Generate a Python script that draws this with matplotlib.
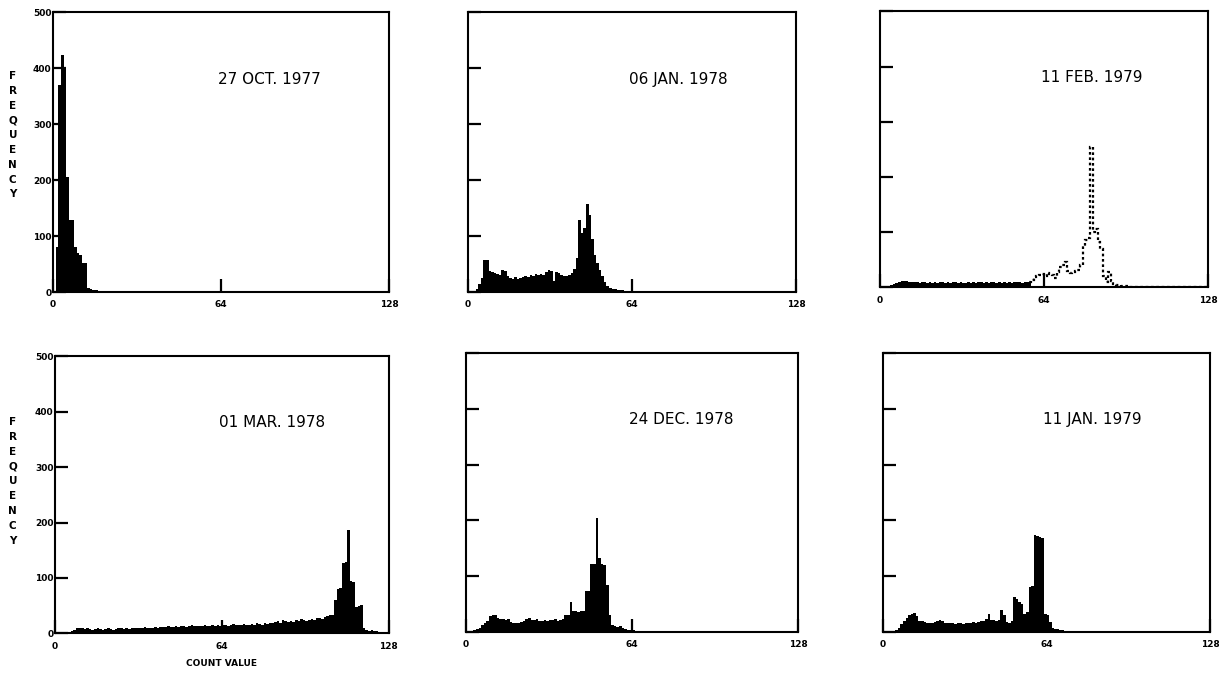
import matplotlib.pyplot as plt
import numpy as np

N_BINS = 128

# frequency for each count value, starting at 0 (values past the end are zero)
oct_1977 = [2, 80, 370, 423, 400, 206, 129, 129, 81, 70, 66, 52, 52, 8, 5, 4,
            3, 2, 2, 1, 1]

jan_1978 = [0, 0, 1, 5, 15, 25, 57, 57, 38, 36, 34, 33, 30, 40, 38, 28,
            25, 24, 26, 24, 25, 26, 28, 27, 30, 29, 32, 31, 33, 30, 35, 40,
            38, 20, 36, 34, 30, 29, 28, 30, 34, 42, 60, 128, 105, 114, 157, 138,
            95, 66, 52, 40, 28, 18, 10, 8, 6, 5, 4, 3, 3, 2, 2, 1,
            1]

feb_1979 = [0, 0, 1, 2, 4, 6, 8, 10, 11, 12, 11, 10, 9, 10, 9, 8,
            9, 10, 8, 9, 8, 9, 8, 9, 10, 8, 9, 8, 9, 10, 8, 9,
            8, 7, 10, 8, 9, 8, 10, 9, 8, 9, 8, 10, 9, 8, 9, 8,
            9, 8, 9, 8, 9, 10, 9, 8, 9, 9, 10, 14, 18, 20, 22, 24,
            20, 26, 24, 22, 16, 28, 36, 40, 45, 30, 26, 28, 30, 32, 40, 75,
            85, 90, 255, 100, 105, 82, 70, 20, 10, 28, 12, 6, 5, 4, 3, 2,
            2, 1, 1]

mar_1978 = [0, 0, 0, 0, 1, 2, 4, 6, 9, 10, 9, 8, 9, 8, 7, 8,
            9, 8, 7, 8, 9, 8, 7, 8, 9, 10, 8, 9, 8, 9, 10, 9,
            10, 9, 11, 10, 9, 10, 11, 10, 12, 11, 12, 14, 12, 11, 13, 12,
            13, 14, 12, 13, 15, 13, 14, 13, 14, 15, 13, 14, 15, 14, 16, 14,
            15, 16, 14, 15, 17, 15, 16, 15, 17, 16, 15, 17, 16, 18, 17, 16,
            18, 17, 19, 18, 20, 22, 19, 24, 22, 20, 23, 21, 24, 22, 26, 24,
            23, 25, 26, 24, 27, 28, 26, 30, 32, 34, 34, 60, 81, 82, 127, 128,
            187, 94, 92, 48, 50, 52, 10, 6, 5, 7, 5, 4, 3, 1, 0, 0]

dec_1978 = [0, 0, 1, 3, 5, 8, 12, 16, 19, 28, 31, 30, 26, 24, 23, 22,
            23, 18, 16, 17, 16, 18, 20, 24, 26, 22, 21, 24, 20, 19, 21, 20,
            22, 21, 23, 20, 22, 24, 31, 30, 53, 38, 37, 36, 38, 37, 73, 74,
            121, 122, 204, 133, 121, 120, 85, 31, 12, 10, 9, 10, 8, 6, 4, 3,
            3, 2, 2, 1, 1]

jan_1979 = [0, 0, 0, 0, 1, 3, 8, 14, 20, 26, 30, 33, 34, 28, 20, 19,
            18, 17, 16, 17, 18, 19, 21, 19, 17, 16, 17, 16, 15, 16, 17, 15,
            16, 17, 16, 18, 17, 18, 19, 20, 24, 33, 22, 21, 20, 22, 39, 30,
            18, 17, 19, 63, 60, 54, 50, 33, 36, 81, 82, 173, 172, 170, 168, 33,
            30, 18, 8, 6, 5, 4, 3, 2, 2, 2, 1, 1]

dates = ["27 OCT. 1977", "06 JAN. 1978", "11 FEB. 1979",
         "01 MAR. 1978", "24 DEC. 1978", "11 JAN. 1979"]
series = [oct_1977, jan_1978, feb_1979, mar_1978, dec_1978, jan_1979]

x_ticks = [0, 64, 128]
y_ticks = [0, 100, 200, 300, 400, 500]

# panel rectangles (left, bottom, width, height) in figure fractions
boxes = [
    [0.0435, 0.568, 0.276, 0.414],
    [0.384, 0.568, 0.269, 0.414],
    [0.722, 0.575, 0.269, 0.408],
    [0.045, 0.063, 0.274, 0.410],
    [0.382, 0.065, 0.273, 0.413],
    [0.724, 0.065, 0.269, 0.413],
]
# vertical centre of the stacked FREQUENCY label for each row
freq_label_y = [0.80, 0.288]

# the 11 FEB. 1979 histogram is plotted dotted above this count value
DOTTED_FROM = 59


def padded(values):
    arr = np.zeros(N_BINS)
    arr[:len(values)] = values
    return arr


fig = plt.figure(figsize=(12.19, 6.76), dpi=100)
edges = np.arange(N_BINS + 1)

for i, (vals, date, box) in enumerate(zip(series, dates, boxes)):
    ax = fig.add_axes(box)
    h = padded(vals)
    if i == 2:
        ax.stairs(h[:DOTTED_FROM], edges[:DOTTED_FROM + 1], fill=True,
                  color="black")
        ax.stairs(h[DOTTED_FROM - 1:], edges[DOTTED_FROM - 1:],
                  color="black", linestyle=(0, (1.2, 1.2)), linewidth=1.6)
    else:
        ax.stairs(h, edges, fill=True, color="black", linewidth=0.8)

    ax.set_xlim(0, 128)
    ax.set_ylim(0, 500)
    ax.set_xticks(x_ticks)
    ax.set_xticklabels([str(t) for t in x_ticks], fontsize=6.5,
                       fontweight="bold")
    ax.set_yticks(y_ticks)
    ax.tick_params(axis="both", direction="in", length=9.5, width=1.6,
                   top=False, right=False)
    ax.tick_params(axis="x", pad=6)
    ax.tick_params(axis="y", pad=1)
    if i % 3 == 0:
        ax.set_yticklabels([str(t) for t in y_ticks], fontsize=6.5,
                           fontweight="bold")
        fig.text(0.0105, freq_label_y[i // 3], "\n".join("FREQUENCY"),
                 ha="center", va="center", fontsize=7.5, fontweight="bold",
                 linespacing=1.6)
    else:
        ax.set_yticklabels([])
    for side in ax.spines.values():
        side.set_linewidth(1.5)

    ax.text(0.49, 0.76, date, transform=ax.transAxes, ha="left",
            va="center", fontsize=11)

    if i == 3:
        ax.set_xlabel("COUNT VALUE", fontsize=6.5, fontweight="bold",
                      labelpad=6)

fig.savefig("out.png", dpi=100)
